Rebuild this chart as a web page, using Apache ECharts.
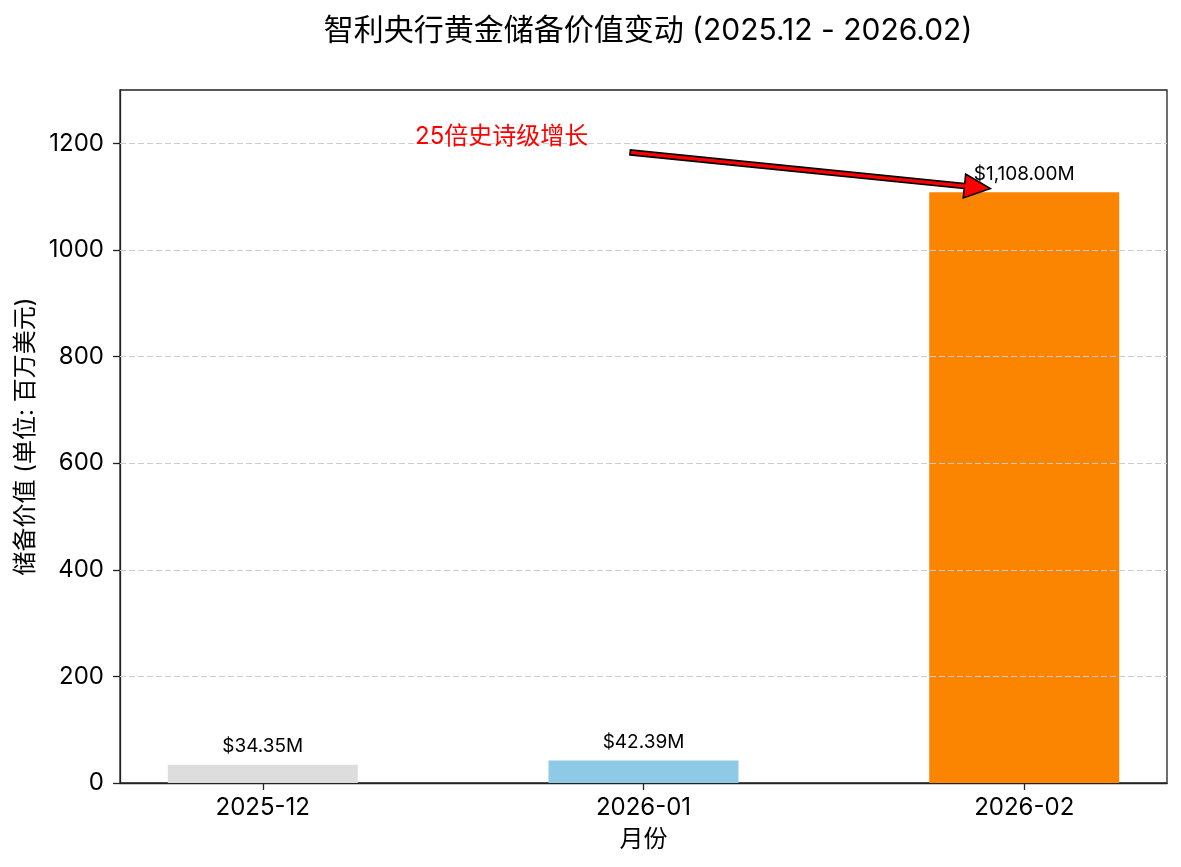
<!DOCTYPE html>
<html>
<head>
<meta charset="utf-8">
<script src="https://cdn.jsdelivr.net/npm/echarts@6/dist/echarts.min.js"></script>
<style>
  html, body { margin: 0; padding: 0; background: #fff; }
  #chart { width: 1181px; height: 867px; }
</style>
</head>
<body>
<div id="chart"></div>
<script>
// 数据
const months = ['2025-12', '2026-01', '2026-02'];
const values = [34.35, 42.39, 1108.0];
const barColors = ['#dddddd', '#8ecae6', '#fb8500'];
const yTicks = [0, 200, 400, 600, 800, 1000, 1200];

// 注释: 文字位置与箭头起止点 (数据坐标)
const noteText = '25倍史诗级增长';
const notePos = [0.4, 1213];
const arrowFrom = [0.965, 1183];
const arrowTo = [1.911, 1115];

const FONT = 'Inter, "Noto Sans CJK SC", sans-serif';

const chart = echarts.init(document.getElementById('chart'), null, { renderer: 'canvas' });

// 箭头 + 注释文字, 坐标经由坐标系换算
function renderArrow(params, api) {
  const p0 = api.coord(arrowFrom);
  const p1 = api.coord(arrowTo);
  const dx = p1[0] - p0[0], dy = p1[1] - p0[1];
  const len = Math.sqrt(dx * dx + dy * dy);
  const ux = dx / len, uy = dy / len;
  const nx = -uy, ny = ux;
  const shaft = 2.5, head = 12, headLen = 26;
  const bx = p1[0] - ux * headLen, by = p1[1] - uy * headLen;
  const pts = [
    [p0[0] + nx * shaft, p0[1] + ny * shaft],
    [bx + nx * shaft, by + ny * shaft],
    [bx + nx * head, by + ny * head],
    [p1[0], p1[1]],
    [bx - nx * head, by - ny * head],
    [bx - nx * shaft, by - ny * shaft],
    [p0[0] - nx * shaft, p0[1] - ny * shaft]
  ];
  const tp = api.coord(notePos);
  return {
    type: 'group',
    children: [
      {
        type: 'polygon',
        shape: { points: pts },
        style: { fill: '#ff0000', stroke: '#000000', lineWidth: 1.6, lineJoin: 'miter' }
      },
      {
        type: 'text',
        x: tp[0], y: tp[1],
        style: {
          text: noteText, fill: '#ff0000', font: '24px ' + FONT,
          align: 'left', verticalAlign: 'middle'
        }
      }
    ]
  };
}

chart.setOption({
  backgroundColor: '#ffffff',
  animation: false,
  title: {
    text: '智利央行黄金储备价值变动 (2025.12 - 2026.02)',
    left: 643, top: 11, textAlign: 'center',
    textStyle: { fontFamily: FONT, fontSize: 30, fontWeight: 'normal', color: '#000' }
  },
  grid: {
    left: 120, right: 14, top: 90, bottom: 84,
    show: true, borderColor: '#222', borderWidth: 1.3, backgroundColor: 'transparent'
  },
  xAxis: {
    type: 'value',
    min: -0.375, max: 2.375,
    name: '月份', nameLocation: 'middle', nameGap: 45,
    nameTextStyle: { fontFamily: FONT, fontSize: 24, color: '#000' },
    axisLine: { show: true, onZero: false, lineStyle: { color: '#222', width: 1.3 } },
    axisTick: { show: true, customValues: [0, 1, 2], length: 7, lineStyle: { color: '#222', width: 1.3 } },
    axisLabel: {
      customValues: [0, 1, 2], margin: 13,
      formatter: v => months[Math.round(v)],
      fontFamily: FONT, fontSize: 24, color: '#000'
    },
    splitLine: { show: false }
  },
  yAxis: {
    type: 'value',
    min: 0, max: 1300,
    name: '储备价值 (单位: 百万美元)', nameLocation: 'middle', nameGap: 80,
    nameTextStyle: { fontFamily: FONT, fontSize: 24, color: '#000' },
    axisLine: { show: true, onZero: false, lineStyle: { color: '#222', width: 1.3 } },
    axisTick: { show: true, customValues: yTicks, length: 7, lineStyle: { color: '#222', width: 1.3 } },
    axisLabel: {
      customValues: yTicks, margin: 16,
      formatter: v => String(v),
      fontFamily: FONT, fontSize: 24, color: '#000'
    },
    splitLine: { show: false }
  },
  series: [
    {
      type: 'line',
      silent: true,
      data: [],
      markLine: {
        silent: true, symbol: 'none', label: { show: false },
        lineStyle: { type: [6, 3], color: '#cccccc', width: 1 },
        data: yTicks.filter(t => t > 0).map(t => ({ yAxis: t }))
      }
    },
    {
      type: 'bar',
      barWidth: 190,
      data: values.map((v, i) => ({ value: [i, v], itemStyle: { color: barColors[i] } })),
      label: {
        show: true, position: 'top', distance: 9,
        formatter: p => '$' + p.value[1].toLocaleString('en-US', { minimumFractionDigits: 2, maximumFractionDigits: 2 }) + 'M',
        fontFamily: FONT, fontSize: 19, color: '#000'
      }
    },
    {
      type: 'custom',
      silent: true,
      renderItem: renderArrow,
      data: [0],
      z: 10
    }
  ]
});
</script>
</body>
</html>
